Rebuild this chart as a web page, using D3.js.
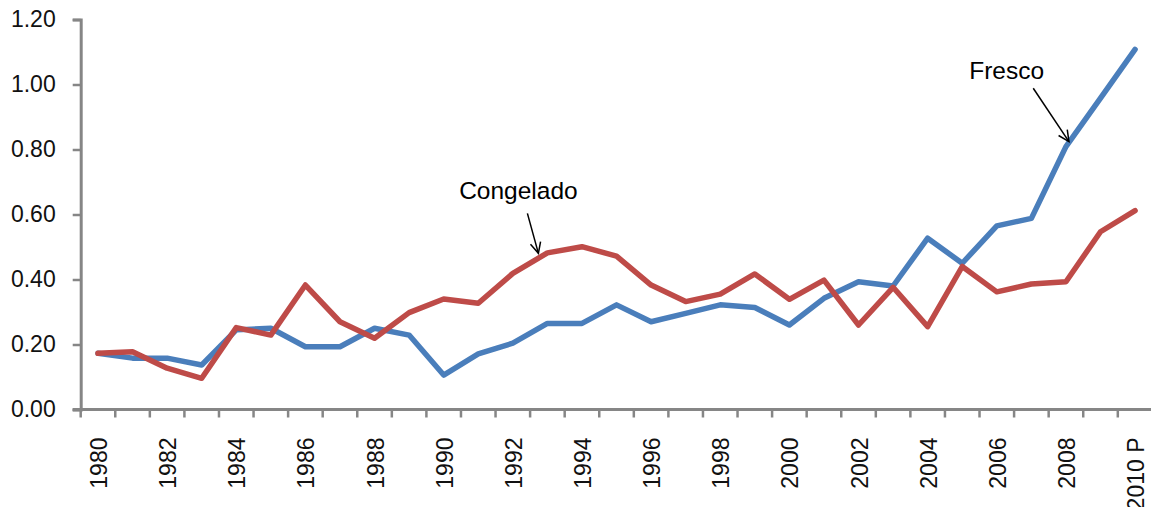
<!DOCTYPE html>
<html>
<head>
<meta charset="utf-8">
<script src="https://cdn.jsdelivr.net/npm/d3@7"></script>
<style>
  html, body { margin: 0; padding: 0; background: #fff; }
  svg { display: block; }
</style>
</head>
<body>
<svg id="chart" width="1151" height="507"></svg>
<script>
// ---- data ----
const categories = ["1980","1981","1982","1983","1984","1985","1986","1987","1988","1989",
  "1990","1991","1992","1993","1994","1995","1996","1997","1998","1999",
  "2000","2001","2002","2003","2004","2005","2006","2007","2008","2009","2010 P"];
const fresco = [0.173,0.158,0.158,0.137,0.245,0.250,0.193,0.193,0.250,0.229,
  0.106,0.171,0.204,0.265,0.265,0.322,0.270,0.296,0.322,0.314,
  0.260,0.342,0.393,0.380,0.527,0.450,0.565,0.588,0.809,0.958,1.108];
const congelado = [0.173,0.178,0.127,0.096,0.252,0.229,0.383,0.270,0.219,0.298,
  0.340,0.327,0.419,0.482,0.501,0.472,0.383,0.332,0.355,0.417,
  0.339,0.398,0.260,0.376,0.255,0.440,0.362,0.386,0.393,0.547,0.612];
const yTicks = [0, 0.2, 0.4, 0.6, 0.8, 1.0, 1.2];
const xLabels = categories.filter((d, i) => i % 2 === 0);
const seriesNames = ["Fresco", "Congelado"];

// ---- layout ----
const svg = d3.select("#chart");
const mLeft = 80.7, mTop = 19.5, mBottom = 409.5;
const bw = 34.57;
const x = d3.scaleBand().domain(categories).range([mLeft, mLeft + bw * categories.length]).padding(0);
const y = d3.scaleLinear().domain([0, 1.2]).range([mBottom, mTop]);
const cx = d => x(d) + x.bandwidth() / 2;

const axisColor = "#868686";
const font = "'Liberation Sans', Arial, sans-serif";

// y axis
const yAxis = d3.axisLeft(y).tickValues(yTicks).tickFormat(d3.format(".2f")).tickSize(8).tickPadding(17);
const gy = svg.append("g").attr("transform", `translate(${mLeft},0)`).call(yAxis);
gy.select(".domain").attr("stroke", axisColor).attr("stroke-width", 3);
gy.selectAll(".tick line").attr("stroke", axisColor).attr("stroke-width", 2.5);
gy.selectAll(".tick text").attr("font-family", font).attr("font-size", 23).attr("fill", "#111");

// x axis
const gx = svg.append("g");
gx.append("line").attr("x1", mLeft - 8).attr("x2", 1151).attr("y1", mBottom).attr("y2", mBottom)
  .attr("stroke", axisColor).attr("stroke-width", 3);
const boundaries = categories.map(c => x(c)).concat([x(categories[categories.length - 1]) + x.bandwidth()]);
gx.selectAll("line.xt").data(boundaries).enter().append("line").attr("class", "xt")
  .attr("x1", d => d).attr("x2", d => d).attr("y1", mBottom).attr("y2", mBottom + 8)
  .attr("stroke", axisColor).attr("stroke-width", 2.5);
gx.selectAll("text.xl").data(xLabels).enter().append("text").attr("class", "xl")
  .attr("transform", d => `translate(${cx(d) + 1},${mBottom + 28}) rotate(-90)`)
  .attr("text-anchor", "end").attr("dy", "0.35em")
  .attr("font-family", font).attr("font-size", 23).attr("fill", "#111")
  .text(d => d);

// lines
const line = d3.line().x((d, i) => cx(categories[i])).y(d => y(d));
const series = [
  { name: seriesNames[0], values: fresco, color: "#4A7EBB" },
  { name: seriesNames[1], values: congelado, color: "#BE4B48" }
];
svg.selectAll("path.series").data(series).enter().append("path").attr("class", "series")
  .attr("d", d => line(d.values)).attr("fill", "none").attr("stroke", d => d.color)
  .attr("stroke-width", 5.5).attr("stroke-linejoin", "round").attr("stroke-linecap", "round");

// annotations (anchored to data points, with label offsets)
const annotations = [
  { text: "Congelado", idx: 13, series: congelado, tip: [-9, 0.5], start: [-20, -39.5], label: [-29, -54] },
  { text: "Fresco", idx: 28, series: fresco, tip: [3, -5], start: [-32.7, -58.3], label: [-59.3, -67.6] }
];
annotations.forEach(a => {
  const ax = cx(categories[a.idx]), ay = y(a.series[a.idx]);
  const tx = ax + a.tip[0], ty = ay + a.tip[1];
  const sx = ax + a.start[0], sy = ay + a.start[1];
  svg.append("line").attr("x1", sx).attr("y1", sy).attr("x2", tx).attr("y2", ty)
    .attr("stroke", "#000").attr("stroke-width", 1.5);
  const ang = Math.atan2(ty - sy, tx - sx);
  const L = 12, spread = 0.45;
  const p1 = [tx - L * Math.cos(ang - spread), ty - L * Math.sin(ang - spread)];
  const p2 = [tx - L * Math.cos(ang + spread), ty - L * Math.sin(ang + spread)];
  svg.append("path").attr("d", `M${p1[0]},${p1[1]}L${tx},${ty}L${p2[0]},${p2[1]}`)
    .attr("fill", "none").attr("stroke", "#000").attr("stroke-width", 1.5);
  svg.append("text").attr("x", ax + a.label[0]).attr("y", ay + a.label[1])
    .attr("text-anchor", "middle").attr("font-family", font).attr("font-size", 24.5)
    .attr("fill", "#000").text(a.text);
});
</script>
</body>
</html>
